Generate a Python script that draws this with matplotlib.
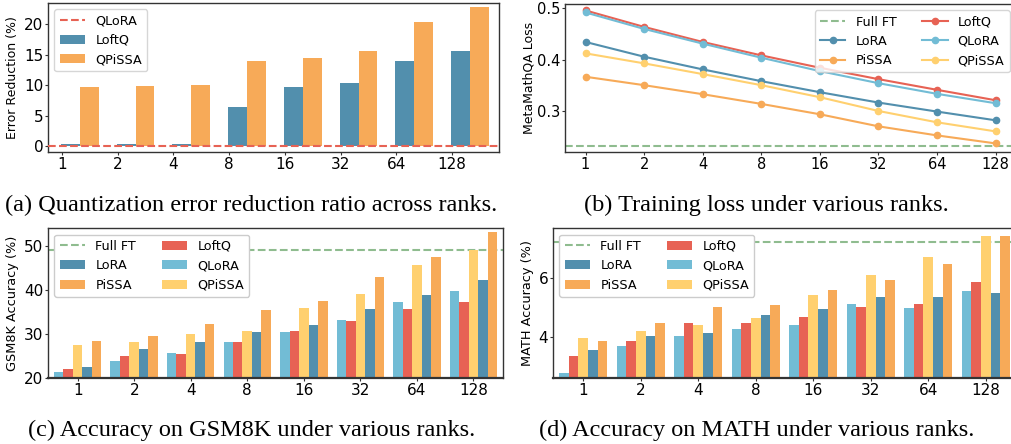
import numpy as np
import matplotlib
matplotlib.use("Agg")
import matplotlib.pyplot as plt

# ---- data ----
ranks = ["1", "2", "4", "8", "16", "32", "64", "128"]

# (a) quantization error reduction (%)
err_loftq = [0.27, 0.27, 0.27, 6.36, 9.64, 10.3, 13.9, 15.56]
err_qpissa = [9.64, 9.8, 9.97, 13.9, 14.4, 15.56, 20.3, 22.8]
err_qlora = 0.0

# (b) MetaMathQA training loss
loss_loftq = [0.4955, 0.4636, 0.4344, 0.4084, 0.3844, 0.3623, 0.3416, 0.3214]
loss_qlora = [0.4916, 0.4597, 0.4312, 0.4039, 0.3779, 0.3545, 0.3338, 0.3156]
loss_lora = [0.4344, 0.4058, 0.3812, 0.3584, 0.3370, 0.3169, 0.2994, 0.2825]
loss_qpissa = [0.4123, 0.3929, 0.3721, 0.3506, 0.3273, 0.3006, 0.2786, 0.2610]
loss_pissa = [0.3669, 0.3506, 0.3331, 0.3143, 0.2942, 0.2708, 0.2532, 0.2377]
loss_fullft = 0.2331

# (c) GSM8K accuracy (%)
gsm_qlora = [21.3, 23.8, 25.8, 28.1, 30.4, 33.3, 37.2, 39.9]
gsm_loftq = [22.0, 25.1, 25.4, 28.1, 30.8, 32.9, 35.8, 37.4]
gsm_qpissa = [27.6, 28.3, 30.1, 30.8, 36.0, 39.2, 45.8, 49.2]
gsm_lora = [22.4, 26.5, 28.3, 30.4, 32.0, 35.8, 39.0, 42.4]
gsm_pissa = [28.5, 29.5, 32.2, 35.6, 37.6, 43.1, 47.6, 53.3]
gsm_fullft = 49.2

# (d) MATH accuracy (%)
math_qlora = [2.78, 3.70, 4.04, 4.28, 4.42, 5.14, 5.00, 5.58]
math_loftq = [3.36, 3.87, 4.49, 4.49, 4.69, 5.03, 5.14, 5.89]
math_qpissa = [3.98, 4.21, 4.42, 4.66, 5.44, 6.12, 6.74, 7.45]
math_lora = [3.57, 4.04, 4.15, 4.76, 4.96, 5.37, 5.37, 5.51]
math_pissa = [3.87, 4.49, 5.03, 5.10, 5.61, 5.95, 6.50, 7.45]
math_fullft = 7.23

captions = [
    "(a) Quantization error reduction ratio across ranks.",
    "(b) Training loss under various ranks.",
    "(c) Accuracy on GSM8K under various ranks.",
    "(d) Accuracy on MATH under various ranks.",
]

# ---- style ----
C_LOFTQ = "#e76254"
C_QPISSA = "#ffd06f"
C_PISSA = "#f7aa58"
C_QLORA = "#72bcd5"
C_LORA = "#528fad"
C_FULL = "#8fbc8f"

plt.rcParams["font.family"] = "DejaVu Sans"
LEG_FS = 9.2
CAP_FS = 17.5

W, H = 1011, 444
fig = plt.figure(figsize=(W / 100, H / 100), dpi=100)


def add_ax(left, top, right, bottom):
    return fig.add_axes([left / W, 1 - bottom / H, (right - left) / W, (bottom - top) / H])


def style(ax, tick_fs):
    for s in ax.spines.values():
        s.set_color("#333333")
        s.set_linewidth(1.0)
    ax.tick_params(labelsize=tick_fs, length=2, pad=1.5, color="#333333")


x = np.arange(len(ranks))

# (a) error reduction
ax = add_ax(48, 3, 499, 152)
w = 0.34
ax.axhline(err_qlora, color=C_LOFTQ, ls="--", lw=1.5, label="QLoRA", zorder=3)
ax.bar(x, err_loftq, width=w, align="edge", color=C_LORA, label="LoftQ")
ax.bar(x + w, err_qpissa, width=w, align="edge", color=C_PISSA, label="QPiSSA")
ax.set_xticks(x + 0.02)
ax.set_xticklabels(ranks)
ax.set_xlim(-0.23, 7.86)
ax.set_ylim(-1.0, 23.5)
ax.set_yticks([0, 5, 10, 15, 20])
ax.set_ylabel("Error Reduction (%)", fontsize=9, labelpad=3.5)
style(ax, 11)
ax.legend(loc="upper left", fontsize=LEG_FS)

# (b) training loss
ax = add_ax(565, 4, 1016, 152)
ax.axhline(loss_fullft, color=C_FULL, ls="--", lw=1.5, label="Full FT")
ax.plot(x, loss_lora, "o-", color=C_LORA, lw=1.5, ms=4.5, label="LoRA")
ax.plot(x, loss_pissa, "o-", color=C_PISSA, lw=1.5, ms=4.5, label="PiSSA")
ax.plot(x, loss_loftq, "o-", color=C_LOFTQ, lw=1.5, ms=4.5, label="LoftQ")
ax.plot(x, loss_qlora, "o-", color=C_QLORA, lw=1.5, ms=4.5, label="QLoRA")
ax.plot(x, loss_qpissa, "o-", color=C_QPISSA, lw=1.5, ms=4.5, label="QPiSSA")
ax.set_xticks(x)
ax.set_xticklabels(ranks)
ax.set_xlim(-0.35, 7.35)
ax.set_ylim(0.221, 0.508)
ax.set_yticks([0.3, 0.4, 0.5])
ax.set_ylabel("MetaMathQA Loss", fontsize=9, labelpad=1)
style(ax, 10.5)
ax.legend(loc="upper right", ncol=2, fontsize=LEG_FS)


def grouped(ax, series, full, ylim, yticks, ylabel):
    bw = 0.168
    ax.axhline(full, color=C_FULL, ls="--", lw=1.5, label="Full FT", zorder=1)
    order = [("QLoRA", C_QLORA), ("LoftQ", C_LOFTQ), ("QPiSSA", C_QPISSA),
             ("LoRA", C_LORA), ("PiSSA", C_PISSA)]
    for i, (name, col) in enumerate(order):
        ax.bar(x + (i - 2) * bw, series[name], width=bw, color=col,
               label=name, zorder=2)
    ax.set_xticks(x)
    ax.set_xticklabels(ranks)
    ax.set_xlim(-0.525, 7.525)
    ax.set_ylim(*ylim)
    ax.set_yticks(yticks)
    ax.set_ylabel(ylabel, fontsize=9.3, labelpad=3.5)
    style(ax, 11)
    ax.spines["bottom"].set_linewidth(1.6)
    ax.spines["bottom"].set_zorder(5)
    h, l = ax.get_legend_handles_labels()
    lut = dict(zip(l, h))
    names = ["Full FT", "LoRA", "PiSSA", "LoftQ", "QLoRA", "QPiSSA"]
    ax.legend([lut[n] for n in names], names, loc="upper left", ncol=2,
              fontsize=LEG_FS, framealpha=1.0)


# (c) GSM8K
ax = add_ax(48, 228.3, 503, 378)
grouped(ax, {"QLoRA": gsm_qlora, "LoftQ": gsm_loftq, "QPiSSA": gsm_qpissa,
             "LoRA": gsm_lora, "PiSSA": gsm_pissa},
        gsm_fullft, (20, 54.1), [20, 30, 40, 50], "GSM8K Accuracy (%)")

# (d) MATH
ax = add_ax(553, 228.3, 1016, 378)
grouped(ax, {"QLoRA": math_qlora, "LoftQ": math_loftq, "QPiSSA": math_qpissa,
             "LoRA": math_lora, "PiSSA": math_pissa},
        math_fullft, (2.61, 7.71), [4, 6], "MATH Accuracy (%)")

# captions
cap_pos = [(251, 205), (766, 205), (252, 430), (757, 430)]
for (cx, cy), txt in zip(cap_pos, captions):
    fig.text(cx / W, 1 - cy / H, txt, ha="center", va="center",
             fontsize=CAP_FS, family="Liberation Serif")

fig.savefig("out.png", dpi=100)
